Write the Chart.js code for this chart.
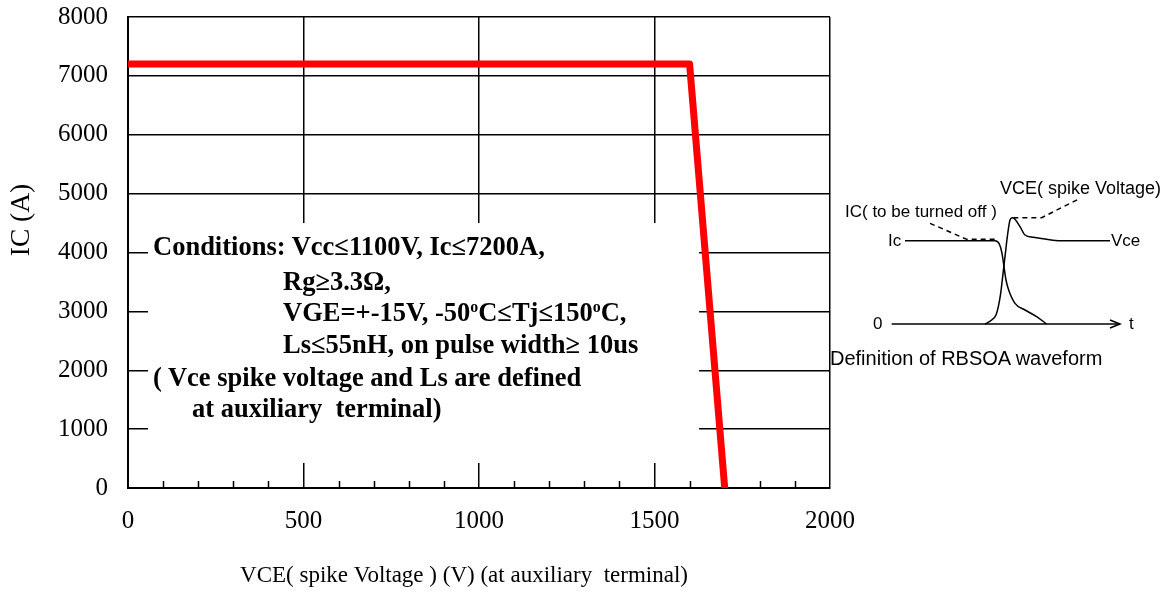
<!DOCTYPE html>
<html>
<head>
<meta charset="utf-8">
<title>RBSOA</title>
<script src="https://cdn.jsdelivr.net/npm/chart.js@4.4.1/dist/chart.umd.min.js"></script>
<style>
    body { margin: 0; background: #fff; }
    #wrap { position: relative; width: 1176px; height: 594px; overflow: hidden; }
    #main { position: absolute; left: 0; top: 0; }
    #inset { position: absolute; left: 820px; top: 170px; }
    .lbl { position: absolute; white-space: pre; line-height: 1; transform: translateY(-50%); color: #000; }
    .cond { font: bold 26.5px "Liberation Serif", "Times New Roman", serif; }
    .wave { font: 17px "Liberation Sans", Arial, sans-serif; }
    .sup { font-size: 60%; position: relative; top: -0.55em; }
</style>
</head>
<body>
<div id="wrap">
    <canvas id="main" width="1176" height="594"></canvas>
    <canvas id="inset" width="356" height="200"></canvas>

    <!-- test conditions -->
    <div class="lbl cond" style="left:153px;top:246px">Conditions: Vcc≤1100V, Ic≤7200A,</div>
    <div class="lbl cond" style="left:283px;top:281px">Rg≥3.3Ω,</div>
    <div class="lbl cond" style="left:283px;top:312px">VGE=+-15V, -50<span class="sup">o</span>C≤Tj≤150<span class="sup">o</span>C,</div>
    <div class="lbl cond" style="left:283px;top:344px">Ls≤55nH, on pulse width≥ 10us</div>
    <div class="lbl cond" style="left:153px;top:377px">( Vce spike voltage and Ls are defined</div>
    <div class="lbl cond" style="left:192px;top:408px">at auxiliary  terminal)</div>

    <!-- waveform labels -->
    <div class="lbl wave" style="left:1000px;top:188px;font-size:18px">VCE( spike Voltage)</div>
    <div class="lbl wave" style="left:845px;top:212px">IC( to be turned off )</div>
    <div class="lbl wave" style="left:888px;top:241px">Ic</div>
    <div class="lbl wave" style="left:1111px;top:241px">Vce</div>
    <div class="lbl wave" style="left:873px;top:324px">0</div>
    <div class="lbl wave" style="left:1129px;top:324px">t</div>
    <div class="lbl wave" style="left:830px;top:358px;font-size:20px">Definition of RBSOA waveform</div>
</div>

<script>
// RBSOA boundary
const vce = [0, 1600, 1700];
const ic = [7200, 7200, 0];

// axes
const xMin = 0, xMax = 2000, xStep = 500, xMinorStep = 100;
const yMin = 0, yMax = 8000, yStep = 1000;

// white area behind the conditions text (data units)
const boxVce = [57, 1627];
const boxIc = [425, 4500];

// waveform sketch: time in arbitrary units, amplitude 1 = Ic level
const baseT = [0, 68.5];
const baseA = [0, 0];
const arrowT = [65.5, 68.5, 65.5];
const arrowA = [0.048, 0, -0.048];
const icT = [4, 31, 32.3, 33.1, 33.7, 34.3, 35.1, 37, 40, 43.5, 46.5];
const icA = [1, 1, 0.96, 0.848, 0.688, 0.528, 0.408, 0.248, 0.168, 0.088, 0];
const vceT = [28, 30, 31.3, 32, 32.7, 33.3, 34, 34.7, 35.5, 36.2, 37, 38.5, 40, 42.5, 46.5, 50.5, 65.5];
const vceA = [0, 0.048, 0.108, 0.208, 0.368, 0.568, 0.808, 1.048, 1.248, 1.276, 1.256, 1.168, 1.068, 1.04, 1.016, 1, 1];
const icLeadT = [11.5, 22.5, 31.5];
const icLeadA = [1.208, 1.016, 1.016];
const vceLeadT = [36.5, 45, 56.5];
const vceLeadA = [1.276, 1.276, 1.508];

function pts(xs, ys) {
    return xs.map((v, i) => ({ x: v, y: ys[i] }));
}

const serif = '"Liberation Serif", "Times New Roman", serif';

// keep the plot box where it is, whatever the labels want
function fixPadding(scale) {
    scale.paddingTop = 0;
    scale.paddingBottom = 0;
    scale.paddingLeft = 0;
    scale.paddingRight = 0;
}

const decor = {
    id: 'decor',
    beforeDatasetsDraw(chart) {
        const { ctx, scales: { x, y } } = chart;
        ctx.save();
        // white box over the grid
        const l = x.getPixelForValue(boxVce[0]);
        const r = x.getPixelForValue(boxVce[1]);
        const t = y.getPixelForValue(boxIc[1]);
        const b = y.getPixelForValue(boxIc[0]);
        ctx.fillStyle = '#fff';
        ctx.fillRect(l, t, r - l, b - t);

        // minor ticks on the x axis, pointing inwards
        ctx.strokeStyle = '#000';
        ctx.lineWidth = 1.5;
        for (let v = xMin + xMinorStep; v < xMax; v += xMinorStep) {
            if (v % xStep === 0) continue;
            const px = Math.round(x.getPixelForValue(v)) + 0.5;
            ctx.beginPath();
            ctx.moveTo(px, y.bottom);
            ctx.lineTo(px, y.bottom - 7);
            ctx.stroke();
        }
        ctx.restore();
    },
    afterDraw(chart) {
        const { ctx, chartArea } = chart;
        ctx.save();
        ctx.fillStyle = '#000';
        ctx.textAlign = 'center';
        ctx.textBaseline = 'middle';
        // x title
        ctx.font = '23px ' + serif;
        ctx.fillText('VCE( spike Voltage ) (V) (at auxiliary  terminal)', chartArea.left + 336, 576);
        // y title
        ctx.font = '27.5px ' + serif;
        ctx.translate(22, chartArea.top + 203);
        ctx.rotate(-Math.PI / 2);
        ctx.fillText('IC (A)', 0, 0);
        ctx.restore();
    }
};

new Chart(document.getElementById('main'), {
    type: 'line',
    data: {
        datasets: [{
            data: pts(vce, ic),
            borderColor: '#ff0000',
            borderWidth: 7,
            pointRadius: 0,
            tension: 0,
            borderJoinStyle: 'round',
            borderCapStyle: 'round'
        }]
    },
    options: {
        responsive: false,
        animation: false,
        layout: { padding: { left: 0, top: 17, right: 346, bottom: 0 } },
        plugins: {
            legend: { display: false },
            tooltip: { enabled: false }
        },
        scales: {
            x: {
                type: 'linear',
                min: xMin,
                max: xMax,
                afterFit(scale) { scale.height = 106; fixPadding(scale); },
                ticks: {
                    stepSize: xStep,
                    color: '#000',
                    padding: 18,
                    maxRotation: 0,
                    font: { family: serif, size: 25 },
                    callback: v => String(v)
                },
                grid: {
                    color: '#000',
                    lineWidth: 1.5,
                    drawTicks: false
                },
                border: { color: '#000', width: 2 }
            },
            y: {
                min: yMin,
                max: yMax,
                afterFit(scale) { scale.width = 128; fixPadding(scale); },
                ticks: {
                    stepSize: yStep,
                    color: '#000',
                    padding: 20,
                    font: { family: serif, size: 25 },
                    callback: v => String(v)
                },
                grid: {
                    color: '#000',
                    lineWidth: 1.5,
                    drawTicks: false
                },
                border: { color: '#000', width: 2 }
            }
        }
    },
    plugins: [decor]
});

// waveform definition sketch
const waveLine = { borderColor: '#000', borderWidth: 1.5, pointRadius: 0, tension: 0 };

new Chart(document.getElementById('inset'), {
    type: 'line',
    data: {
        datasets: [
            { ...waveLine, data: pts(baseT, baseA) },
            { ...waveLine, data: pts(arrowT, arrowA) },
            { ...waveLine, data: pts(icT, icA), cubicInterpolationMode: 'monotone' },
            { ...waveLine, data: pts(vceT, vceA), cubicInterpolationMode: 'monotone' },
            { ...waveLine, data: pts(icLeadT, icLeadA), borderDash: [5, 4] },
            { ...waveLine, data: pts(vceLeadT, vceLeadA), borderDash: [5, 4] }
        ]
    },
    options: {
        responsive: false,
        animation: false,
        layout: { padding: 0 },
        plugins: {
            legend: { display: false },
            tooltip: { enabled: false }
        },
        scales: {
            x: { type: 'linear', min: -21.5, max: 85.3, display: false },
            y: { min: -0.552, max: 1.848, display: false }
        }
    }
});
</script>
</body>
</html>
